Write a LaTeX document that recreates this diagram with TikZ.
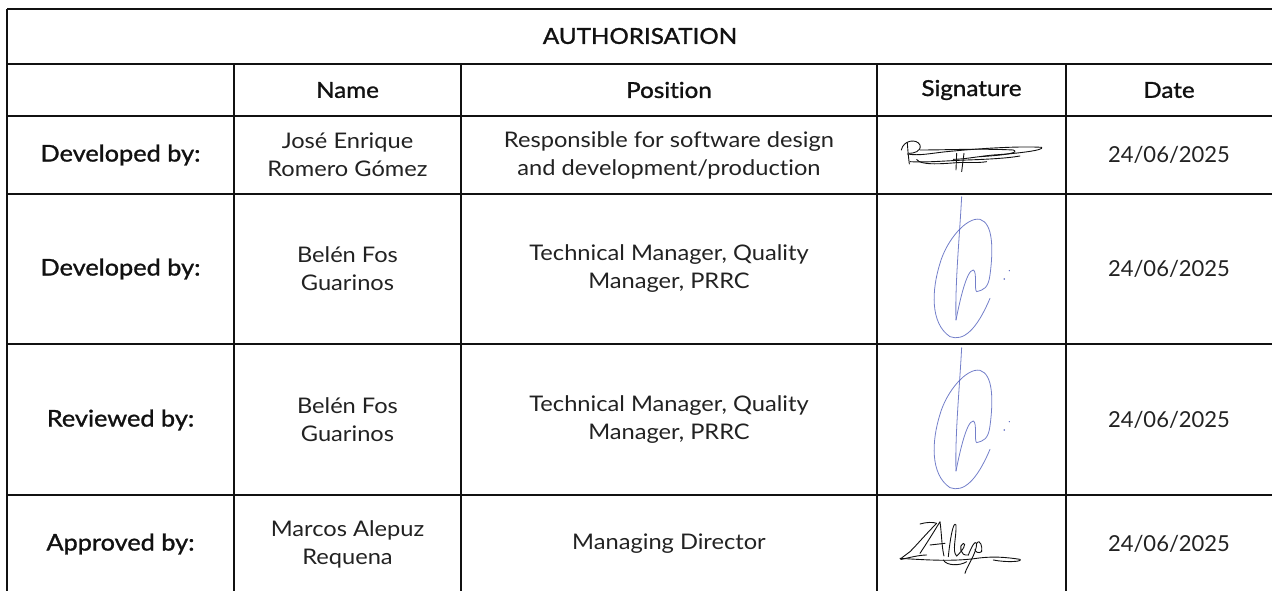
\documentclass[tikz,border=0pt]{standalone}
\usepackage{fontspec}
\setmainfont{Lato}[FakeStretch=1.1,Ligatures=NoCommon]
\newfontfamily\medfont{Lato}[FakeBold=1.2,FakeStretch=1.1,Ligatures=NoCommon]
\newfontfamily\numfont{Lato}
\definecolor{ink}{HTML}{111111}
\definecolor{txt}{HTML}{222222}
\definecolor{sigblue}{HTML}{5A68C0}
\begin{document}
\begin{tikzpicture}[x=1pt,y=-1pt,
  grid/.style={line width=1.3pt,draw=ink},
  head/.style={font=\medfont\fontsize{22}{26}\selectfont,text=ink,align=center,anchor=center},
  lbl/.style={font=\medfont\fontsize{23}{26}\selectfont,text=ink,align=center,anchor=center},
  cell/.style={font=\fontsize{21.5}{28}\selectfont,text=txt,align=center,anchor=center},
  datecell/.style={font=\numfont\fontsize{22}{28}\selectfont,text=txt,align=center,anchor=center},
  sigk/.style={draw=ink,line width=0.9pt,line cap=round,line join=round},
  sigb/.style={draw=sigblue,line width=0.8pt,line cap=round,line join=round,opacity=0.85}]
\useasboundingbox (0,0) rectangle (1272,590);
\begin{scope}
\clip (0,0) rectangle (1272,590);
% grid
\draw[grid] (7,9) -- (1290,9);
\draw[grid] (7,9) -- (7,600);
\draw[grid] (7,64) -- (1290,64);
\draw[grid] (7,116) -- (1290,116);
\draw[grid] (7,194) -- (1290,194);
\draw[grid] (7,344) -- (1290,344);
\draw[grid] (7,495) -- (1290,495);
\foreach \cx in {234,461,877,1066} \draw[grid] (\cx,64) -- (\cx,600);
\end{scope}
% header
\node[head] (title) at (640,36) {AUTHORISATION};
\node[head] (hname) at (347.5,90) {Name};
\node[head] (hpos) at (669,90) {Position};
\node[head] (hsig) at (971.5,90) {Signature};
\node[head] (hdate) at (1169,90) {Date};
% row 1
\node[lbl] (l1) at (120.5,155) {Developed by:};
\node[cell] (n1) at (347.5,155) {José Enrique\\Romero Gómez};
\node[cell] (p1) at (669,155) {Responsible for software design\\and development/production};
\node[datecell] (d1) at (1169,155) {24/06/2025};
% row 2
\node[lbl] (l2) at (120.5,269) {Developed by:};
\node[cell] (n2) at (347.5,269) {Belén Fos\\Guarinos};
\node[cell] (p2) at (669,269) {Technical Manager, Quality\\Manager, PRRC};
\node[datecell] (d2) at (1169,269) {24/06/2025};
% row 3
\node[lbl] (l3) at (120.5,420) {Reviewed by:};
\node[cell] (n3) at (347.5,420) {Belén Fos\\Guarinos};
\node[cell] (p3) at (669,420) {Technical Manager, Quality\\Manager, PRRC};
\node[datecell] (d3) at (1169,420) {24/06/2025};
% row 4
\node[lbl] (l4) at (120.5,544) {Approved by:};
\node[cell] (n4) at (347.5,544) {Marcos Alepuz\\Requena};
\node[cell] (p4) at (669,544) {Managing Director};
\node[datecell] (d4) at (1169,544) {24/06/2025};
% signature 1 (black)
\begin{scope}[shift={(820,100)},x=0.3333pt,y=-0.3333pt]
\path[sigk] (262,128) .. controls (264,160) and (266,175) .. (268,192);
\path[sigk] (244,150) .. controls (250,120) and (290,115) .. (300,135) .. controls (305,155) and (280,160) .. (268,160);
\path[sigk] (262,162) .. controls (300,168) and (330,160) .. (380,155) .. controls (480,145) and (600,138) .. (665,142) .. controls (675,150) and (600,160) .. (520,165) .. controls (470,170) and (430,178) .. (400,178);
\path[sigk] (270,185) .. controls (320,188) and (380,182) .. (440,180) .. controls (500,178) and (560,175) .. (600,168);
\path[sigk] (300,150) .. controls (380,150) and (480,145) .. (580,150) .. controls (600,158) and (560,165) .. (480,170);
\path[sigk] (410,160) -- (408,210);
\path[sigk] (432,160) -- (425,215);
\path[sigk] (290,178) .. controls (300,196) and (360,192) .. (410,188) .. controls (440,186) and (470,190) .. (500,185);
\end{scope}
% signature 2 and 3 (blue)
\foreach \dy in {190,341} {
\begin{scope}[shift={(820,\dy)},x=0.3333pt,y=-0.3333pt]
\path[sigb] (425,20) .. controls (418,150) and (405,280) .. (408,390);
\path[sigb] (408,390) .. controls (420,330) and (440,240) .. (460,240) .. controls (472,245) and (462,300) .. (470,305) .. controls (490,300) and (505,295) .. (510,255) .. controls (520,180) and (520,100) .. (480,88) .. controls (440,80) and (380,150) .. (360,220) .. controls (335,300) and (330,400) .. (390,440) .. controls (430,455) and (470,420) .. (510,325);
\fill[sigblue] (553,267) circle (2.5);
\fill[sigblue] (568,242) circle (2);
\end{scope}
}
% signature 4 (black)
\begin{scope}[shift={(820,480)},x=0.3333pt,y=-0.3333pt]
\path[sigk] (300,132) .. controls (320,126) and (340,126) .. (350,130);
\path[sigk] (350,130) .. controls (320,160) and (290,195) .. (270,215) .. controls (250,230) and (235,240) .. (245,238) .. controls (270,232) and (300,225) .. (320,225);
\path[sigk] (300,220) .. controls (320,190) and (345,150) .. (360,125) .. controls (365,160) and (365,200) .. (372,228);
\path[sigk] (330,195) -- (375,190);
\path[sigk] (385,230) .. controls (390,180) and (400,120) .. (408,135) .. controls (410,170) and (395,215) .. (410,228);
\path[sigk] (410,228) .. controls (430,210) and (440,190) .. (430,190) .. controls (415,195) and (420,230) .. (445,225);
\path[sigk] (445,225) .. controls (455,200) and (465,180) .. (470,190) .. controls (470,220) and (440,260) .. (435,280);
\path[sigk] (470,190) .. controls (480,175) and (488,200) .. (485,215) .. controls (475,222) and (465,215) .. (465,208);
\path[sigk] (240,235) .. controls (320,240) and (400,245) .. (470,235) .. controls (520,228) and (560,232) .. (600,238) .. controls (610,245) and (560,248) .. (520,240);
\path[sigk] (370,240) .. controls (380,258) and (420,258) .. (440,245);
\end{scope}
\end{tikzpicture}
\end{document}
